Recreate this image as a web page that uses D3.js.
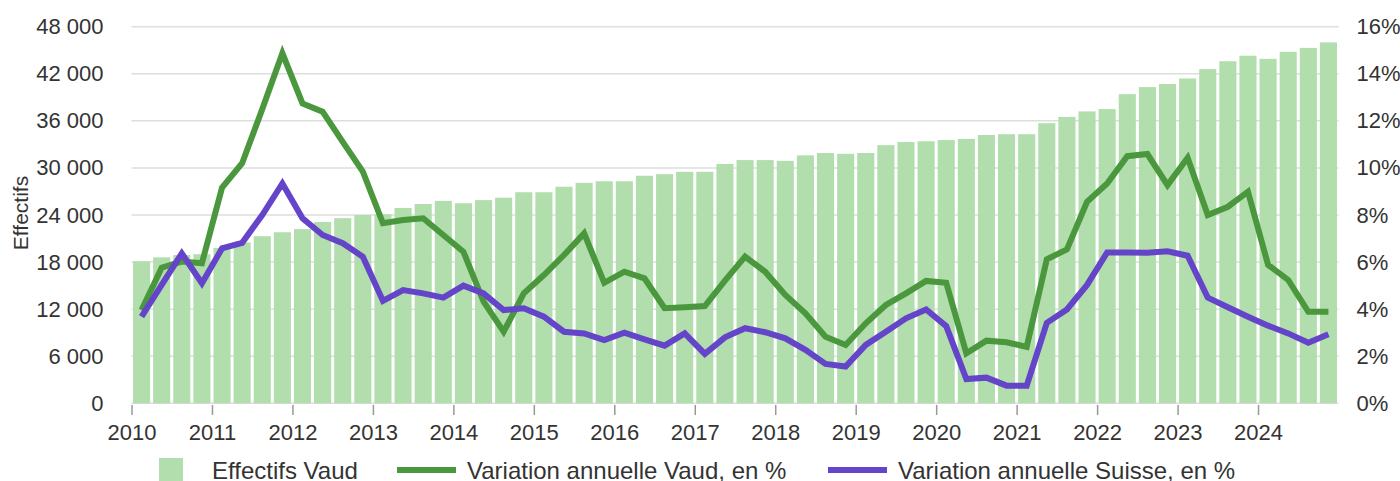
<!DOCTYPE html>
<html lang="fr">
<head>
    <meta charset="UTF-8">
    <title>Effectifs Vaud</title>
    <script src="https://d3js.org/d3.v7.min.js"></script>
    <style>
        body { margin: 0; background: #fff; font-family: "Liberation Sans", Arial, sans-serif; }
        svg { display: block; }
        .grid line { stroke: #dedede; stroke-width: 1.5px; }
        .tick text { fill: #333; }
    </style>
</head>
<body>
<svg id="chart" width="1400" height="481"></svg>
<script>
    // quarterly data, 2010 Q1 -> 2024 Q4
    const years = d3.range(2010, 2025);
    const quarters = years.flatMap(y => [1, 2, 3, 4].map(q => y + "T" + q));

    const effectifs = [18100, 18600, 18900, 19000, 19800, 20500, 21300, 21800, 22200, 23100, 23600, 24000,
        24100, 24900, 25400, 25800, 25500, 25900, 26200, 26900, 26900, 27600, 28100, 28300,
        28300, 29000, 29200, 29500, 29500, 30500, 31000, 31000, 30900, 31600, 31900, 31800,
        31900, 32900, 33300, 33400, 33550, 33700, 34200, 34300, 34300, 35700, 36500, 37200,
        37500, 39400, 40300, 40700, 41400, 42600, 43600, 44300, 43900, 44800, 45300, 46000];

    const variationVaud = [3.96, 5.76, 6.02, 5.95, 9.16, 10.2, 12.5, 14.87, 12.74, 12.39, 11.11, 9.84,
        7.65, 7.79, 7.86, 7.15, 6.44, 4.32, 3.04, 4.67, 5.45, 6.3, 7.22, 5.12,
        5.59, 5.31, 4.04, 4.08, 4.13, 5.21, 6.23, 5.59, 4.6, 3.82, 2.83, 2.48,
        3.4, 4.18, 4.67, 5.2, 5.12, 2.12, 2.66, 2.59, 2.4, 6.12, 6.54, 8.56,
        9.34, 10.5, 10.59, 9.27, 10.43, 8.0, 8.35, 8.99, 5.88, 5.24, 3.89, 3.89];

    const variationSuisse = [3.68, 5.03, 6.37, 5.1, 6.58, 6.82, 8.0, 9.34, 7.86, 7.15, 6.8, 6.23,
        4.35, 4.81, 4.67, 4.49, 5.0, 4.67, 3.96, 4.04, 3.68, 3.04, 2.97, 2.69,
        3.0, 2.72, 2.45, 2.97, 2.1, 2.8, 3.19, 3.02, 2.76, 2.27, 1.67, 1.56,
        2.48, 3.04, 3.61, 3.99, 3.28, 1.03, 1.09, 0.75, 0.75, 3.42, 3.99, 5.03,
        6.41, 6.41, 6.4, 6.46, 6.27, 4.49, 4.08, 3.68, 3.3, 2.97, 2.57, 2.93];

    const leftTicks = d3.range(0, 48001, 6000);
    const rightTicks = d3.range(0, 16.1, 2);

    const barColor = "#b2dead", vaudColor = "#4a973e", suisseColor = "#6444c9";

    const svg = d3.select("#chart");
    const mLeft = 131.5, mRight = 1338.5, mTop = 26.7, mBottom = 403.3;

    let xBand = d3.scaleBand().domain(quarters).range([mLeft, mRight])
        .paddingInner(0.15).paddingOuter(0.075);
    let xYear = d3.scaleLinear().domain([2010, 2025]).range([mLeft, mRight]);
    let yLeft = d3.scaleLinear().domain([0, 48000]).range([mBottom, mTop]);
    let yRight = d3.scaleLinear().domain([0, 16]).range([mBottom, mTop]);

    // grid
    svg.append("g").attr("class", "grid")
        .selectAll("line").data(leftTicks).enter().append("line")
        .attr("x1", mLeft).attr("x2", mRight)
        .attr("y1", d => yLeft(d)).attr("y2", d => yLeft(d));

    // bars
    svg.append("g").selectAll("rect")
        .data(effectifs).enter().append("rect")
        .attr("x", (d, i) => xBand(quarters[i]))
        .attr("width", xBand.bandwidth())
        .attr("y", d => yLeft(d))
        .attr("height", d => yLeft(0) - yLeft(d))
        .attr("fill", barColor);

    // lines
    const cx = i => xBand(quarters[i]) + xBand.bandwidth() / 2;
    const line = d3.line().x((d, i) => cx(i)).y(d => yRight(d));

    svg.append("path").datum(variationVaud)
        .attr("d", line).attr("fill", "none")
        .attr("stroke", vaudColor).attr("stroke-width", 6);
    svg.append("path").datum(variationSuisse)
        .attr("d", line).attr("fill", "none")
        .attr("stroke", suisseColor).attr("stroke-width", 6);

    // left axis
    let gl = svg.append("g").attr("transform", `translate(${mLeft},0)`)
        .call(d3.axisLeft(yLeft).tickValues(leftTicks).tickSize(0).tickPadding(28)
            .tickFormat(d => d3.format(",")(d).replace(/,/g, " ")));
    gl.select(".domain").remove();
    gl.selectAll("text").attr("font-size", 22).attr("font-family", "Liberation Sans, Arial, sans-serif");

    // right axis
    let gr = svg.append("g").attr("transform", `translate(${mRight},0)`)
        .call(d3.axisRight(yRight).tickValues(rightTicks).tickSize(0).tickPadding(18)
            .tickFormat(d => d + "%"));
    gr.select(".domain").remove();
    gr.selectAll("text").attr("font-size", 22).attr("font-family", "Liberation Sans, Arial, sans-serif");

    // bottom axis
    let gb = svg.append("g").attr("transform", `translate(0,405)`)
        .call(d3.axisBottom(xYear).tickValues(years).tickSize(10).tickPadding(9)
            .tickFormat(d3.format("d")));
    gb.select(".domain").remove();
    gb.selectAll("line").attr("stroke", "#999").attr("stroke-width", 1.5);
    gb.selectAll("text").attr("font-size", 22).attr("font-family", "Liberation Sans, Arial, sans-serif");

    // axis title
    svg.append("text")
        .attr("transform", "translate(28,213) rotate(-90)")
        .attr("text-anchor", "middle")
        .attr("font-size", 21)
        .attr("fill", "#333")
        .text("Effectifs");

    // legend
    const legend = svg.append("g").attr("font-size", 24).attr("fill", "#333");
    legend.append("rect").attr("x", 159).attr("y", 458).attr("width", 24).attr("height", 24).attr("fill", barColor);
    legend.append("text").attr("x", 212).attr("y", 479).text("Effectifs Vaud");

    legend.append("line").attr("x1", 397).attr("x2", 456).attr("y1", 470).attr("y2", 470)
        .attr("stroke", vaudColor).attr("stroke-width", 6);
    legend.append("text").attr("x", 467).attr("y", 479).text("Variation annuelle Vaud, en %");

    legend.append("line").attr("x1", 828).attr("x2", 887).attr("y1", 470).attr("y2", 470)
        .attr("stroke", suisseColor).attr("stroke-width", 6);
    legend.append("text").attr("x", 898).attr("y", 479).text("Variation annuelle Suisse, en %");
</script>
</body>
</html>
